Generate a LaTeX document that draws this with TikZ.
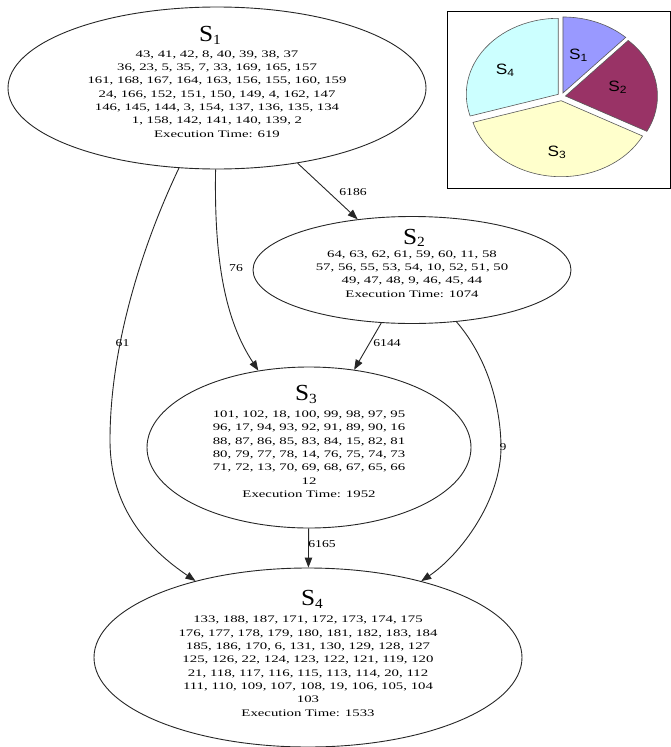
\documentclass[tikz,border=0pt]{standalone}
\usepackage{fontspec}
\setmainfont{Liberation Serif}
\newfontfamily\piefont{Liberation Sans}
\usepackage{graphicx}
\usetikzlibrary{arrows.meta,calc,shapes.geometric}

\definecolor{sliceone}{HTML}{9999FF}
\definecolor{slicetwo}{HTML}{993366}
\definecolor{slicethree}{HTML}{FFFFCC}
\definecolor{slicefour}{HTML}{CCFFFF}

% title "S_k" of a state
\newcommand\sttitle[1]{\scalebox{1.1}[1]{\fontsize{23}{23}\selectfont S\raisebox{-2.5pt}{\fontsize{14}{14}\selectfont #1}}}
% block of task numbers, first row on the node baseline
\newcommand\stbody[1]{\scalebox{1.48}[1]{\fontsize{10}{13.33}\selectfont\begin{tabular}[t]{@{}c@{}}#1\end{tabular}}}
% slice label of the pie
\newcommand\pielabel[1]{\scalebox{1.15}[1]{\piefont\fontsize{15}{15}\selectfont S\raisebox{-2pt}{\fontsize{10.5}{10.5}\selectfont #1}}}

\begin{document}
\begin{tikzpicture}[x=1pt,y=-1pt,
  state/.style={ellipse,draw=black!85,line width=0.9pt,inner sep=0pt},
  stitle/.style={inner sep=0pt,anchor=base},
  sbody/.style={inner sep=0pt,anchor=base},
  edge/.style={draw=black!85,line width=0.9pt,-{Triangle[length=10pt,width=7.5pt]}},
  elab/.style={inner sep=0pt,font=\fontsize{10.5}{10.5}\selectfont,xscale=1.3,transform shape},
  slice/.style={draw=black!65,line width=0.6pt},
  pielab/.style={inner sep=0pt}]
\useasboundingbox (0,0) rectangle (671,747);

% ---- states ----
\node[state,minimum width=418pt,minimum height=162pt] (s1) at (217,88) {};
\node[state,minimum width=318pt,minimum height=107pt] (s2) at (412,270) {};
\node[state,minimum width=324pt,minimum height=161pt] (s3) at (309,447.5) {};
\node[state,minimum width=428pt,minimum height=179pt] (s4) at (308,657.5) {};

\node[stitle] (s1t) at (210,41.7) {\sttitle{1}};
\node[sbody] (s1b) at (217,57.3) {\stbody{%
43, 41, 42, 8, 40, 39, 38, 37\\
36, 23, 5, 35, 7, 33, 169, 165, 157\\
161, 168, 167, 164, 163, 156, 155, 160, 159\\
24, 166, 152, 151, 150, 149, 4, 162, 147\\
146, 145, 144, 3, 154, 137, 136, 135, 134\\
1, 158, 142, 141, 140, 139, 2\\
Execution Time: 619}};

\node[stitle] (s2t) at (414,244) {\sttitle{2}};
\node[sbody] (s2b) at (412,257.3) {\stbody{%
64, 63, 62, 61, 59, 60, 11, 58\\
57, 56, 55, 53, 54, 10, 52, 51, 50\\
49, 47, 48, 9, 46, 45, 44\\
Execution Time: 1074}};

\node[stitle] (s3t) at (306,400.7) {\sttitle{3}};
\node[sbody] (s3b) at (309,417.5) {\stbody{%
101, 102, 18, 100, 99, 98, 97, 95\\
96, 17, 94, 93, 92, 91, 89, 90, 16\\
88, 87, 86, 85, 83, 84, 15, 82, 81\\
80, 79, 77, 78, 14, 76, 75, 74, 73\\
71, 72, 13, 70, 69, 68, 67, 65, 66\\
12\\
Execution Time: 1952}};

\node[stitle] (s4t) at (312,605.5) {\sttitle{4}};
\node[sbody] (s4b) at (308,622.7) {\stbody{%
133, 188, 187, 171, 172, 173, 174, 175\\
176, 177, 178, 179, 180, 181, 182, 183, 184\\
185, 186, 170, 6, 131, 130, 129, 128, 127\\
125, 126, 22, 124, 123, 122, 121, 119, 120\\
21, 118, 117, 116, 115, 113, 114, 20, 112\\
111, 110, 109, 107, 108, 19, 106, 105, 104\\
103\\
Execution Time: 1533}};

% ---- transfers ----
\draw[edge] (s1) -- (s2);
\draw[edge] (s2) -- (s3);
\draw[edge] (s3) -- (s4);
\draw[edge] (s1) .. controls (214,260) and (225,320) .. (s3);
\draw[edge] (s1) .. controls (140,250) and (110,350) .. (110,440)
                 .. controls (110,510) and (150,550) .. (s4);
\draw[edge] (s2) .. controls (485,355) and (500,400) .. (501,445)
                 .. controls (502,500) and (460,555) .. (s4);

\node[elab] (e12) at (353,192.5) {6186};
\node[elab] (e13) at (236,268) {76};
\node[elab] (e14) at (122.5,343.5) {61};
\node[elab] (e23) at (387,343) {6144};
\node[elab] (e24) at (503,447) {9};
\node[elab] (e34) at (322,544.5) {6165};

% ---- share of execution time ----
\draw[line width=1pt] (447.3,11.7) rectangle (670,188);
\coordinate (pc) at (561.5,96.7);
\filldraw[slice,fill=sliceone] ([shift={(-68.5:4)}]pc) -- ++(-47:92 and 76)
  arc[start angle=-47,end angle=-90,x radius=92,y radius=76] -- cycle;
\filldraw[slice,fill=slicetwo] ([shift={(-9.65:4)}]pc) -- ++(27.7:92 and 76)
  arc[start angle=27.7,end angle=-47,x radius=92,y radius=76] -- cycle;
\filldraw[slice,fill=slicethree] ([shift={(95.55:4)}]pc) -- ++(163.4:92 and 76)
  arc[start angle=163.4,end angle=27.7,x radius=92,y radius=76] -- cycle;
\filldraw[slice,fill=slicefour] ([shift={(-143.3:4)}]pc) -- ++(-90:92 and 76)
  arc[start angle=-90,end angle=-196.6,x radius=92,y radius=76] -- cycle;

\node[pielab] (p1) at (578.3,55) {\pielabel{1}};
\node[pielab] (p2) at (617.5,87.5) {\pielabel{2}};
\node[pielab] (p3) at (556.7,152.5) {\pielabel{3}};
\node[pielab] (p4) at (505,70) {\pielabel{4}};
\end{tikzpicture}
\end{document}
